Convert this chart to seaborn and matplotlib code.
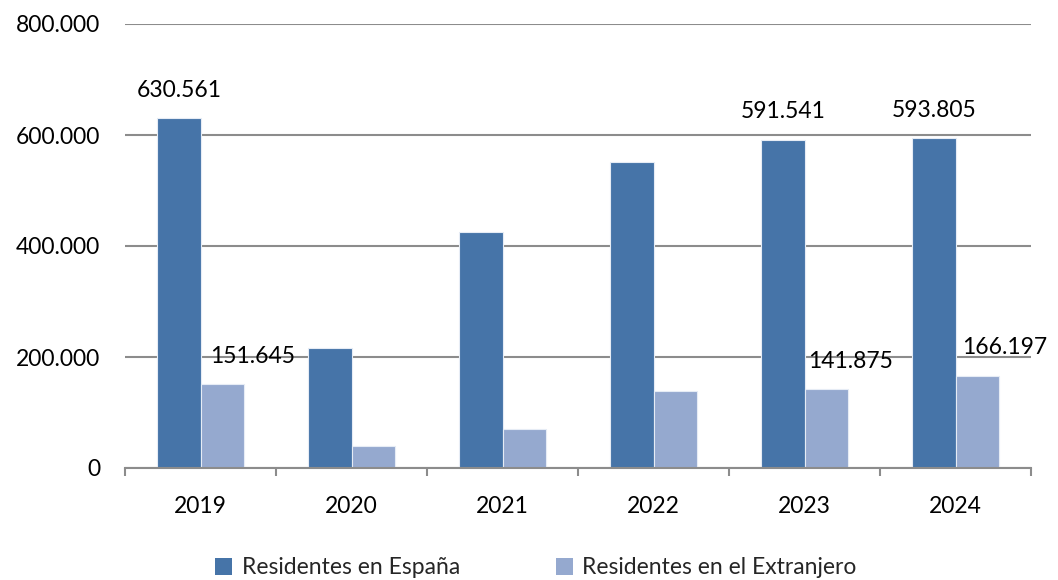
import matplotlib
matplotlib.use("Agg")
import matplotlib.pyplot as plt
import seaborn as sns
import pandas as pd
from matplotlib.patches import Patch
from matplotlib.ticker import FuncFormatter, FixedLocator

years = ["2019", "2020", "2021", "2022", "2023", "2024"]
espana = [630561, 215500, 424500, 551000, 591541, 593805]
extranjero = [151645, 39500, 69700, 138000, 141875, 166197]
series_names = ["Residentes en España", "Residentes en el Extranjero"]
colors = ["#4674A8", "#95A9CF"]

df = pd.DataFrame({
    "year": years * 2,
    "value": espana + extranjero,
    "serie": [series_names[0]] * len(years) + [series_names[1]] * len(years),
})

sns.set_theme(style="white")
plt.rcParams["font.family"] = ["Lato", "DejaVu Sans"]
FS = 16.5

fig = plt.figure(figsize=(10.58, 5.8), dpi=100)
ax = fig.add_axes([125 / 1058, (580 - 468) / 580, (1031 - 125) / 1058, (468 - 24) / 580])

sns.barplot(data=df, x="year", y="value", hue="serie", palette=colors,
            width=0.57, gap=0, ax=ax, legend=False,
            edgecolor="#E6ECF5", linewidth=0.8, saturation=1)

ax.set_ylim(0, 800000)
ax.set_xlim(-0.5, len(years) - 0.5)
ax.set_yticks([0, 200000, 400000, 600000, 800000])
ax.yaxis.set_major_formatter(FuncFormatter(lambda v, p: f"{int(v):,}".replace(",", ".")))
ax.yaxis.grid(True, color="#8C8C8C", linewidth=1.5)
ax.set_axisbelow(True)
ax.set_xlabel("")
ax.set_ylabel("")

for s in ["top", "right", "left"]:
    ax.spines[s].set_visible(False)
ax.spines["bottom"].set_color("#8C8C8C")
ax.spines["bottom"].set_linewidth(1.5)

ax.tick_params(axis="y", length=0, pad=18, labelsize=FS, labelcolor="black")
ax.tick_params(axis="x", which="major", length=0, pad=20, labelsize=FS, labelcolor="black")
ax.xaxis.set_minor_locator(FixedLocator([i - 0.5 for i in range(len(years) + 1)]))
ax.tick_params(axis="x", which="minor", length=6, width=1.5, color="#8C8C8C", direction="out", bottom=True)

# data labels (bar containers: 0 = España, 1 = Extranjero)
labelled = {0: [0, 4, 5], 1: [0, 4, 5]}
xoff = {0: [0, 0, 0], 1: [22, 18, 20]}
fmt = lambda v: f"{v:,}".replace(",", ".")
for ci, idxs in labelled.items():
    cont = ax.containers[ci]
    vals = espana if ci == 0 else extranjero
    for k, i in enumerate(idxs):
        bar = cont[i]
        xc = bar.get_x() + bar.get_width() / 2
        ax.annotate(fmt(vals[i]), (xc, vals[i]), xytext=(xoff[ci][k], 20),
                    textcoords="offset points", ha="center", va="center",
                    fontsize=FS, color="black", annotation_clip=False)

handles = [Patch(facecolor=c, edgecolor="none") for c in colors]
fig.legend(handles, series_names, loc="center", ncol=2, frameon=False,
           bbox_to_anchor=(536 / 1058, 12 / 580), fontsize=FS,
           handlelength=0.75, handleheight=0.75, handletextpad=0.4,
           columnspacing=4.2)

fig.savefig("out.png", dpi=100)
